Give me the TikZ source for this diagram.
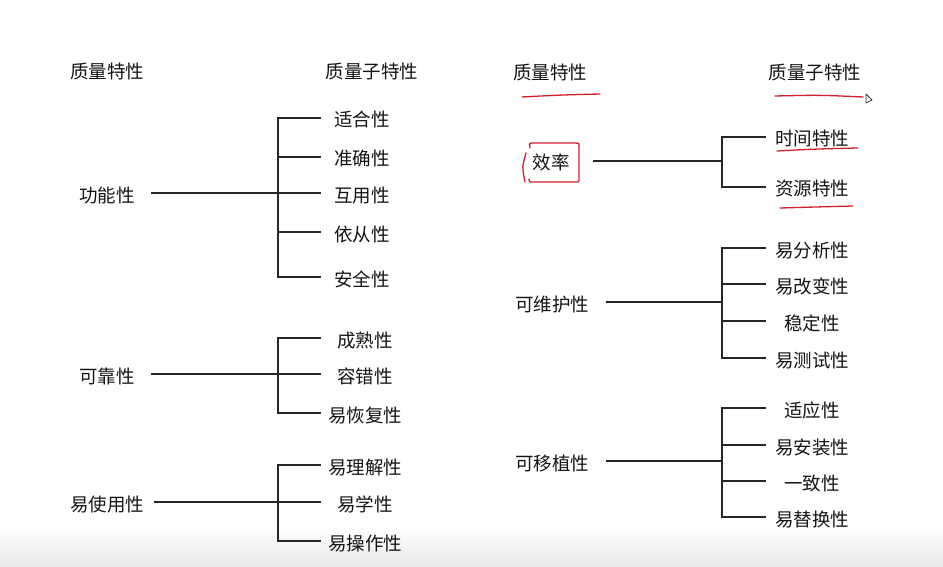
\documentclass[tikz,border=0pt]{standalone}
\usepackage{fontspec}
\setmainfont{Noto Sans CJK SC}
\definecolor{pen}{HTML}{D0202C}

\begin{document}
\begin{tikzpicture}[x=1pt, y=-1pt, line width=1.1pt, draw=black!85,
  attr/.style={inner xsep=16pt, inner ysep=2pt, text height=20pt, text depth=2pt,
    font=\fontsize{18.5}{22}\selectfont, text=black!92},
  sub/.style={inner sep=2pt, text height=20pt, text depth=2pt,
    font=\fontsize{18.5}{22}\selectfont, text=black!92},
  ink/.style={pen, line width=1.3pt, line cap=round}]
  \useasboundingbox (0,0) rectangle (943,567);
  \shade[top color=white, bottom color=black!9] (0,525) rectangle (943,567);

  % column positions of the bars
  \coordinate (lbar) at (278,0);
  \coordinate (lend) at (321,0);
  \coordinate (rbar) at (722,0);
  \coordinate (rend) at (766,0);

  % headers
  \node[sub] (hl1) at (107,70) {质量特性};
  \node[sub] (hl2) at (372,70) {质量子特性};
  \node[sub] (hr1) at (550,71) {质量特性};
  \node[sub] (hr2) at (815,71) {质量子特性};

  % left column
  \node[attr] (gn) at (107,193) {功能性};
  \foreach \y/\t [count=\i] in {118/适合性,157/准确性,193/互用性,232/依从性,277/安全性}
    \node[sub] (gn\i) at (362,\y) {\t};
  \draw (lend |- gn1) -- (lbar |- gn1) -- (lbar |- gn5) -- (lend |- gn5);
  \foreach \i in {2,3,4} \draw (lbar |- gn\i) -- (lend |- gn\i);
  \draw (gn.east) -- (lbar |- gn);

  \node[attr] (kk) at (107,374) {可靠性};
  \foreach \y/\t [count=\i] in {338/成熟性,374/容错性,413/易恢复性}
    \node[sub] (kk\i) at (365,\y) {\t};
  \draw (lend |- kk1) -- (lbar |- kk1) -- (lbar |- kk3) -- (lend |- kk3);
  \draw (kk.east) -- (lend |- kk2);

  \node[attr] (ys) at (107,502) {易使用性};
  \foreach \y/\t [count=\i] in {465/易理解性,502/易学性,541/易操作性}
    \node[sub] (ys\i) at (365,\y) {\t};
  \draw (lend |- ys1) -- (lbar |- ys1) -- (lbar |- ys3) -- (lend |- ys3);
  \draw ([xshift=-7pt]ys.east) -- (lend |- ys2);

  % right column
  \node[attr] (xl) at (551,161) {效率};
  \foreach \y/\t [count=\i] in {137/时间特性,187/资源特性}
    \node[sub] (xl\i) at (812,\y) {\t};
  \draw (rend |- xl1) -- (rbar |- xl1) -- (rbar |- xl2) -- (rend |- xl2);
  \draw ([xshift=7pt]xl.east) -- (rbar |- xl);

  \node[attr] (wh) at (552,302) {可维护性};
  \foreach \y/\t [count=\i] in {248/易分析性,284/易改变性,321/稳定性,358/易测试性}
    \node[sub] (wh\i) at (812,\y) {\t};
  \draw (rend |- wh1) -- (rbar |- wh1) -- (rbar |- wh4) -- (rend |- wh4);
  \foreach \i in {2,3} \draw (rbar |- wh\i) -- (rend |- wh\i);
  \draw (wh.east) -- (rbar |- wh);

  \node[attr] (yz) at (552,461) {可移植性};
  \foreach \y/\t [count=\i] in {408/适应性,445/易安装性,481/一致性,517/易替换性}
    \node[sub] (yz\i) at (812,\y) {\t};
  \draw (rend |- yz1) -- (rbar |- yz1) -- (rbar |- yz4) -- (rend |- yz4);
  \foreach \i in {2,3} \draw (rbar |- yz\i) -- (rend |- yz\i);
  \draw (yz.east) -- (rbar |- yz);

  % red pen marks
  \draw[ink] (522,97) .. controls (560,95) .. (600,94);
  \draw[ink] (775,96) .. controls (820,95) .. (863,97);
  \draw[ink] (777,151) .. controls (815,149) .. (858,148);
  \draw[ink] (780,208) .. controls (815,207) .. (853,206);
  \draw[ink] (526,153) .. controls (522,167) .. (525,182);
  \draw[ink] (530,148) .. controls (529,143) .. (535,143) -- (576,143)
    .. controls (579,143) .. (579,147) -- (579,178)
    .. controls (579,182) .. (575,182) -- (533,182) .. controls (529,182) .. (529,179);

  % mouse pointer
  \draw[line width=0.8pt, black!80, fill=white, line join=round] (866,94) -- (866,103) -- (872,100) -- cycle;
\end{tikzpicture}
\end{document}
